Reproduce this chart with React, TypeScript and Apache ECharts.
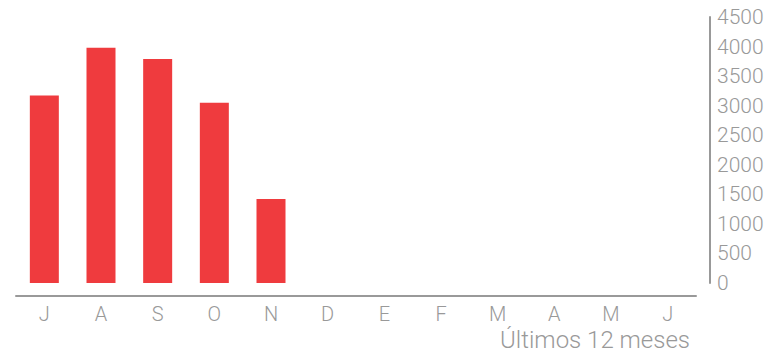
import React, { useEffect, useRef } from "react";
import * as echarts from "echarts";

const months = ["J", "A", "S", "O", "N", "D", "E", "F", "M", "A", "M", "J"];
const values: (number | null)[] = [3170, 3980, 3790, 3050, 1420, null, null, null, null, null, null, null];
const yMin = 0;
const yMax = 4500;
const yStep = 500;
const axisTitle = "Últimos 12 meses";

const FONT = "Roboto, 'Helvetica Neue', Arial, sans-serif";

export default function App() {
  const ref = useRef<HTMLDivElement>(null);
  useEffect(() => {
    if (!ref.current) return;
    const chart = echarts.init(ref.current, undefined, { renderer: "svg" });
    chart.setOption({
      animation: false,
      grid: { left: 16, right: 75, top: 17, bottom: 72, containLabel: false },
      xAxis: {
        type: "category",
        data: months,
        offset: 13,
        axisLine: { show: true, onZero: false, lineStyle: { color: "#999", width: 2 } },
        axisTick: { show: false },
        axisLabel: { color: "#999", fontSize: 20, fontFamily: FONT, fontWeight: 300, margin: 8 },
        splitLine: { show: false },
      },
      yAxis: {
        type: "value",
        position: "right",
        offset: 14,
        min: yMin,
        max: yMax,
        interval: yStep,
        axisLine: { show: true, lineStyle: { color: "#999", width: 2 } },
        axisTick: { show: false },
        splitLine: { show: false },
        axisLabel: {
          color: "#999",
          fontSize: 21,
          fontFamily: FONT,
          fontWeight: 300,
          margin: 7,
          formatter: (v: number) => String(v),
        },
      },
      series: [
        {
          type: "bar",
          data: values,
          barWidth: 29,
          itemStyle: { color: "#ef3b3e" },
        },
      ],
      graphic: [
        {
          type: "text",
          x: 690,
          y: 340,
          style: {
            text: axisTitle,
            fill: "#999",
            fontSize: 24,
            lineHeight: 22,
            fontFamily: FONT,
            fontWeight: 300,
            align: "right",
            verticalAlign: "middle",
          },
        },
      ],
    });
    return () => chart.dispose();
  }, []);
  return <div ref={ref} style={{ width: 771, height: 355, position: "absolute", left: 0, top: 0 }} />;
}
